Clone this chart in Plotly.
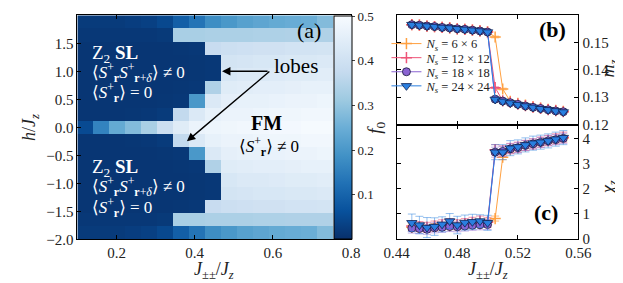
import plotly.graph_objects as go

# ---------------- data: panel (a) heat map of f0 ----------------
jpp_cols = [0.12, 0.161, 0.202, 0.243, 0.284, 0.325, 0.366, 0.407,
            0.448, 0.489, 0.53, 0.571, 0.612, 0.653, 0.694, 0.735]
h_rows = [-1.882, -1.647, -1.412, -1.176, -0.941, -0.706, -0.471, -0.235, 0.0,
          0.235, 0.471, 0.706, 0.941, 1.176, 1.412, 1.647, 1.882]

# rows from the outermost (|h|=1.88) inward to |h|=0.235; the map is symmetric in h
f0_outer_to_inner = [
    [0.02, 0.02, 0.02, 0.025, 0.03, 0.045, 0.09, 0.13, 0.18, 0.20, 0.22, 0.23, 0.24, 0.245, 0.25, 0.28],
    [0.015, 0.015, 0.015, 0.015, 0.015, 0.018, 0.33, 0.33, 0.335, 0.335, 0.335, 0.338, 0.338, 0.34, 0.34, 0.34],
    [0.012, 0.012, 0.012, 0.012, 0.012, 0.012, 0.013, 0.015, 0.38, 0.39, 0.395, 0.40, 0.40, 0.405, 0.405, 0.41],
    [0.012, 0.012, 0.012, 0.012, 0.012, 0.012, 0.012, 0.013, 0.015, 0.41, 0.415, 0.42, 0.42, 0.425, 0.425, 0.43],
    [0.012, 0.012, 0.012, 0.012, 0.012, 0.012, 0.012, 0.013, 0.015, 0.42, 0.43, 0.43, 0.435, 0.44, 0.44, 0.445],
    [0.012, 0.012, 0.012, 0.012, 0.012, 0.012, 0.013, 0.015, 0.34, 0.44, 0.445, 0.45, 0.45, 0.455, 0.46, 0.46],
    [0.012, 0.012, 0.012, 0.012, 0.012, 0.013, 0.015, 0.20, 0.43, 0.455, 0.46, 0.46, 0.465, 0.47, 0.47, 0.475],
    [0.012, 0.012, 0.012, 0.013, 0.015, 0.02, 0.37, 0.43, 0.46, 0.47, 0.47, 0.475, 0.48, 0.48, 0.485, 0.485],
]
f0_h0 = [0.05, 0.16, 0.24, 0.28, 0.33, 0.39, 0.44, 0.47, 0.475, 0.48, 0.485, 0.485, 0.49, 0.49, 0.495, 0.495]
z_f0 = f0_outer_to_inner + [f0_h0] + f0_outer_to_inner[::-1]

# ---------------- data: panels (b) and (c) ----------------
J_b = [0.45, 0.455, 0.46, 0.465, 0.47, 0.475, 0.48, 0.485, 0.49, 0.495, 0.50,
       0.505, 0.51, 0.515, 0.52, 0.525, 0.53, 0.535, 0.54, 0.545, 0.55]

m_24 = [0.1565, 0.1563, 0.1560, 0.1558, 0.1555, 0.1553, 0.1550, 0.1548, 0.1545, 0.1542, 0.1538,
        0.1292, 0.1285, 0.1279, 0.1273, 0.1268, 0.1263, 0.1258, 0.1254, 0.1250, 0.1246]
m_18 = [0.1565, 0.1563, 0.1560, 0.1558, 0.1555, 0.1553, 0.1550, 0.1548, 0.1545, 0.1542, 0.1538,
        0.1293, 0.1286, 0.1280, 0.1274, 0.1268, 0.1263, 0.1259, 0.1254, 0.1250, 0.1247]
m_12 = [0.1565, 0.1563, 0.1560, 0.1558, 0.1555, 0.1553, 0.1550, 0.1548, 0.1545, 0.1542, 0.1538,
        0.1335, 0.1287, 0.1281, 0.1275, 0.1269, 0.1264, 0.1259, 0.1255, 0.1251, 0.1247]
m_6 = [0.1565, 0.1563, 0.1560, 0.1558, 0.1555, 0.1553, 0.1550, 0.1548, 0.1545, 0.1542, 0.1539,
       0.1520, 0.1330, 0.1285, 0.1278, 0.1271, 0.1265, 0.1260, 0.1256, 0.1252, 0.1248]
m_err = [0.0003] * 21

chi_24 = [0.63, 0.54, 0.44, 0.48, 0.57, 0.70, 0.54, 0.64, 0.67, 0.70, 0.63,
          3.45, 3.45, 3.61, 3.66, 3.74, 3.81, 3.85, 3.90, 3.97, 4.03]
chi_24_err = [0.35, 0.35, 0.40, 0.35, 0.30, 0.30, 0.35, 0.30, 0.30, 0.25, 0.30,
              0.30, 0.30, 0.30, 0.28, 0.28, 0.28, 0.28, 0.28, 0.28, 0.28]
chi_18 = [0.42, 0.40, 0.37, 0.43, 0.45, 0.48, 0.47, 0.50, 0.53, 0.55, 0.56,
          3.45, 3.48, 3.58, 3.63, 3.72, 3.78, 3.84, 3.90, 3.95, 4.00]
chi_18_err = [0.2] * 21
chi_12 = [0.50, 0.48, 0.45, 0.50, 0.55, 0.60, 0.55, 0.60, 0.65, 0.70, 0.65,
          3.55, 3.50, 3.60, 3.65, 3.72, 3.78, 3.85, 3.92, 3.98, 4.05]
chi_12_err = [0.2] * 21
chi_6 = [0.45, 0.45, 0.45, 0.50, 0.50, 0.52, 0.55, 0.57, 0.60, 0.62, 0.65,
         0.80, 3.25, 3.55, 3.62, 3.70, 3.77, 3.83, 3.90, 3.96, 4.02]
chi_6_err = [0.1] * 21

sizes = ["6 × 6", "12 × 12", "18 × 18", "24 × 24"]

# ---------------- figure ----------------
W, H = 623, 283
def px(x):
    return x / W
def py(y):
    return 1 - y / H

FONT = "'Liberation Serif', 'DejaVu Serif', serif"

blues_r = [[0.0, "#08306b"], [0.125, "#08519c"], [0.25, "#2171b5"], [0.375, "#4292c6"],
           [0.5, "#6baed6"], [0.625, "#9ecae1"], [0.75, "#c6dbef"], [0.875, "#deebf7"],
           [1.0, "#f7fbff"]]

fig = go.Figure()

fig.add_trace(go.Heatmap(
    x=jpp_cols, y=h_rows, z=z_f0, colorscale=blues_r, zmin=0, zmax=0.5,
    xaxis="x", yaxis="y",
    colorbar=dict(
        x=px(327), xanchor="left", y=py(238), yanchor="bottom",
        len=230 / H, lenmode="fraction", thickness=18, thicknessmode="pixels",
        outlinewidth=1, outlinecolor="black",
        tickvals=[0.1, 0.2, 0.3, 0.4, 0.5], ticks="outside", ticklen=3,
        tickfont=dict(family=FONT, size=13, color="#222"),
        title=dict(text="<i>f</i><sub>0</sub>", side="right",
                   font=dict(family=FONT, size=19, color="#222")),
        xpad=0, ypad=0,
    ),
    showscale=True,
))

styles = {
    "6 × 6": dict(color="#ffa040", ecolor="rgba(255,160,64,0.7)", symbol="cross-thin", msize=8,
                  mline=dict(color="#ffa040", width=1.5)),
    "12 × 12": dict(color="#ee5478", ecolor="rgba(238,84,120,0.6)", symbol="cross-thin", msize=8,
                    mline=dict(color="#ee5478", width=1.5)),
    "18 × 18": dict(color="#8a63d2", ecolor="rgba(138,99,210,0.5)", symbol="circle", msize=8,
                    mline=dict(color="#1a1a3a", width=0.8)),
    "24 × 24": dict(color="#2a7fe0", ecolor="rgba(42,127,224,0.5)", symbol="triangle-down", msize=9,
                    mline=dict(color="#0a2050", width=0.8)),
}
mvals = {"6 × 6": m_6, "12 × 12": m_12, "18 × 18": m_18, "24 × 24": m_24}
cvals = {"6 × 6": (chi_6, chi_6_err), "12 × 12": (chi_12, chi_12_err),
         "18 × 18": (chi_18, chi_18_err), "24 × 24": (chi_24, chi_24_err)}
legend_names = ["legend", "legend2", "legend3", "legend4"]
legend_rows = [37, 51.5, 66, 80.5]

for i, s in enumerate(sizes):
    st = styles[s]
    fig.add_trace(go.Scatter(
        x=J_b, y=mvals[s], mode="lines+markers", xaxis="x2", yaxis="y2",
        name="<i>N</i><sub><i>s</i></sub> = " + s, legendgroup=s, legend=legend_names[i],
        line=dict(color=st["color"], width=1),
        marker=dict(symbol=st["symbol"], size=st["msize"], color=st["color"], line=st["mline"]),
        error_y=dict(type="data", array=m_err, color=st["ecolor"], thickness=1, width=4),
    ))
for s in sizes:
    st = styles[s]
    cv, ce = cvals[s]
    fig.add_trace(go.Scatter(
        x=J_b, y=cv, mode="lines+markers", xaxis="x3", yaxis="y3",
        name=s, legendgroup=s, showlegend=False,
        line=dict(color=st["color"], width=1),
        marker=dict(symbol=st["symbol"], size=st["msize"], color=st["color"], line=st["mline"]),
        error_y=dict(type="data", array=ce, color=st["ecolor"], thickness=1, width=4),
    ))

tickfont = dict(family=FONT, size=15, color="#222")
axis_common = dict(showline=True, linecolor="black", linewidth=1, mirror="ticks",
                   ticks="inside", ticklen=4, tickcolor="black", showgrid=False,
                   zeroline=False, tickfont=tickfont)

legend_layout = {}
for name, yrow in zip(legend_names, legend_rows):
    legend_layout[name] = dict(x=px(382), y=py(yrow), xanchor="left", yanchor="middle",
                               bgcolor="rgba(0,0,0,0)", borderwidth=0,
                               font=dict(family=FONT, size=12.5, color="#222"),
                               itemwidth=30, tracegroupgap=0)

fig.update_layout(
    width=W, height=H, margin=dict(l=0, r=0, t=0, b=0),
    paper_bgcolor="white", plot_bgcolor="white",
    font=dict(family=FONT, color="#222"),
    xaxis=dict(domain=[px(59), px(345)], range=[0.1, 0.8], anchor="y",
               tickvals=[0.2, 0.4, 0.6, 0.8], ticktext=["0.2", "0.4", "0.6", "0.8"],
               **axis_common),
    yaxis=dict(domain=[py(238), py(7.5)], range=[-2, 2], anchor="x",
               tickvals=[-2, -1.5, -1, -0.5, 0, 0.5, 1, 1.5, 2], tickformat=".1f",
               **axis_common),
    xaxis2=dict(domain=[px(392.7), px(582.7)], range=[0.44, 0.56], anchor="y2",
                matches="x3", tickvals=[0.44, 0.48, 0.52, 0.56], showticklabels=False,
                **axis_common),
    yaxis2=dict(domain=[py(120), py(7.3)], range=[0.12, 0.16], anchor="x2", side="right",
                tickvals=[0.12, 0.13, 0.14, 0.15, 0.16], tickformat=".2f",
                **axis_common),
    xaxis3=dict(domain=[px(392.7), px(582.7)], range=[0.44, 0.56], anchor="y3",
                tickvals=[0.44, 0.48, 0.52, 0.56], tickformat=".2f",
                **axis_common),
    yaxis3=dict(domain=[py(237.3), py(120)], range=[0, 4.55], anchor="x3", side="right",
                tickvals=[0, 1, 2, 3, 4],
                **axis_common),
    showlegend=True,
    **legend_layout,
)

ann = []
def txt(text, x, y, size, color="white", xanchor="left", angle=0):
    ann.append(dict(text=text, x=px(x), y=py(y), xref="paper", yref="paper",
                    xanchor=xanchor, yanchor="middle", showarrow=False, textangle=angle,
                    font=dict(family=FONT, size=size, color=color)))

# axis titles
jtitle = "<i>J</i><sub>±±</sub>/<i>J</i><sub><i>z</i></sub>"
txt(jtitle, 202, 270, 18, color="#222", xanchor="center")
txt(jtitle, 488, 270, 18, color="#222", xanchor="center")
txt("<i>h</i>/<i>J</i><sub><i>z</i></sub>", 10, 123, 18, color="#222", xanchor="center", angle=-90)
txt("<i>m</i><sub><i>z</i></sub>", 615, 62, 18, color="#222", xanchor="center", angle=-90)
txt("<i>χ</i><sub><i>z</i></sub>", 615, 185, 18, color="#222", xanchor="center", angle=-90)

sl1 = "Z<sub>2</sub> <b>SL</b>"
sl2 = ("⟨<i>S</i><sup>+</sup><sub><b>r</b></sub><i>S</i><sup>+</sup>"
       "<sub><b>r</b>+<i>δ</i></sub>⟩ ≠ 0")
sl3 = "⟨<i>S</i><sup>+</sup><sub><b>r</b></sub>⟩ = 0"
for y0 in (47, 165):
    txt(sl1, 72, y0, 19)
    txt(sl2, 72, y0 + 19, 17)
    txt(sl3, 72, y0 + 40, 17)

txt("lobes", 262, 60, 21, color="black")
txt("<b>FM</b>", 257, 118, 20, color="black", xanchor="center")
txt("⟨<i>S</i><sup>+</sup><sub><b>r</b></sub>⟩ ≠ 0", 259, 143, 17, color="black", xanchor="center")
txt("(a)", 301, 23, 22, color="black", xanchor="center")
txt("<b>(b)</b>", 556, 22, 22, color="black", xanchor="center")
txt("<b>(c)</b>", 549, 210, 22, color="black", xanchor="center")

# arrows from "lobes" to the two lobe features
for (hx, hy, axp, ayp) in [(0.47, 1.0, 47, 0), (0.38, -0.25, 84, -71)]:
    ann.append(dict(x=hx, y=hy, xref="x", yref="y", ax=axp, ay=ayp, text="",
                    showarrow=True, arrowhead=2, arrowsize=1.2, arrowwidth=1.4,
                    arrowcolor="black"))

fig.update_layout(annotations=ann)
fig.write_html("out.html")
